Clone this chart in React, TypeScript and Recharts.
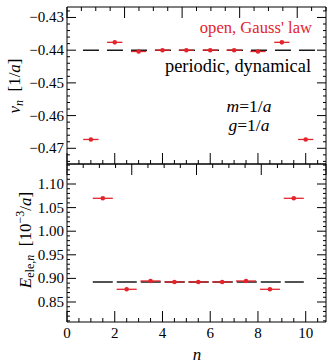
import React from 'react';
import { ComposedChart, Scatter, XAxis, YAxis, ErrorBar, ReferenceLine } from 'recharts';

// site index and expectation values
const sitesTop = [1, 2, 3, 4, 5, 6, 7, 8, 9, 10];
const vOpen = [-0.4673, -0.4376, -0.4404, -0.44, -0.44, -0.44, -0.44, -0.4404, -0.4376, -0.4673];
const vPeriodic = -0.44;

// links sit between sites
const linksBottom = [1.5, 2.5, 3.5, 4.5, 5.5, 6.5, 7.5, 8.5, 9.5];
const eOpen = [1.0697, 0.8769, 0.8945, 0.8925, 0.8925, 0.8925, 0.8945, 0.8769, 1.0697];
const ePeriodic = 0.8925;

const xMajor = [0, 2, 4, 6, 8, 10];
const yMajorTop = [-0.47, -0.46, -0.45, -0.44, -0.43];
const yMajorBottom = [0.85, 0.9, 0.95, 1.0, 1.05, 1.1];

const X_DOMAIN: [number, number] = [0, 10.85];
const TOP_DOMAIN: [number, number] = [-0.4748, -0.4268];
const BOTTOM_DOMAIN: [number, number] = [0.8076, 1.1424];

const RED = '#e3242b';
const FONT = "'Liberation Serif', 'DejaVu Serif', serif";

const range = (from: number, to: number, step: number) => {
  const out: number[] = [];
  for (let v = from; v <= to + 1e-9; v += step) out.push(+v.toFixed(4));
  return out;
};

const xTicks = range(0, 10.5, 0.5);
const yTicksTop = range(-0.474, -0.428, 0.002);
const yTicksBottom = range(0.81, 1.14, 0.01);

const isOn = (v: number, list: number[]) => list.some((m) => Math.abs(m - v) < 1e-6);

const topData = sitesTop.map((n, i) => ({ n, v: vOpen[i], dx: 0.32 }));
const bottomData = linksBottom.map((n, i) => ({ n, v: eOpen[i], dx: 0.42 }));

const fmt = (v: number) => v.toFixed(2).replace('-', '\u2212');

const XTick = ({ x, y, payload, dir, labels }: any) => {
  const major = isOn(payload.value, xMajor);
  const len = major ? 11 : 4;
  return (
    <g>
      <line x1={x} x2={x} y1={y} y2={y + dir * len} stroke="#000" strokeWidth={1} />
      {labels && major && (
        <text x={x} y={y + 16} textAnchor="middle" fontSize={15} fontFamily={FONT} fill="#000">
          {payload.value}
        </text>
      )}
    </g>
  );
};

const YTick = ({ x, y, payload, dir, majors, labels }: any) => {
  const major = isOn(payload.value, majors);
  const len = major ? 9 : 3;
  return (
    <g>
      <line x1={x} x2={x + dir * len} y1={y} y2={y} stroke="#000" strokeWidth={1} />
      {labels && major && (
        <text x={x - 3} y={y + 5} textAnchor="end" fontSize={15} fontFamily={FONT} fill="#000">
          {fmt(payload.value)}
        </text>
      )}
    </g>
  );
};

const dot = (p: any) => <circle cx={p.cx} cy={p.cy} r={2.3} fill={RED} />;

// four framing axes with inward ticks; the axis boxes are 1px so they render
const Frame = ({ yDomain, yMajor, yTicks, bottomLabels }: any) => [
  <XAxis
    key="xb"
    xAxisId={0}
    dataKey="n"
    type="number"
    domain={X_DOMAIN}
    allowDataOverflow
    ticks={xTicks}
    interval={0}
    height={1}
    tickSize={0}
    tickMargin={0}
    tickLine={false}
    axisLine={{ stroke: '#000' }}
    tick={(p: any) => <XTick {...p} dir={-1} labels={bottomLabels} />}
  />,
  <XAxis
    key="xt"
    xAxisId="top"
    orientation="top"
    type="number"
    domain={X_DOMAIN}
    allowDataOverflow
    ticks={xTicks}
    interval={0}
    height={1}
    tickSize={0}
    tickMargin={0}
    tickLine={false}
    axisLine={{ stroke: '#000' }}
    tick={(p: any) => <XTick {...p} dir={1} />}
  />,
  <YAxis
    key="yl"
    yAxisId={0}
    type="number"
    domain={yDomain}
    allowDataOverflow
    ticks={yTicks}
    interval={0}
    width={1}
    tickSize={0}
    tickMargin={0}
    tickLine={false}
    axisLine={{ stroke: '#000' }}
    tick={(p: any) => <YTick {...p} dir={1} majors={yMajor} labels />}
  />,
  <YAxis
    key="yr"
    yAxisId="right"
    orientation="right"
    type="number"
    domain={yDomain}
    allowDataOverflow
    ticks={yTicks}
    interval={0}
    width={1}
    tickSize={0}
    tickMargin={0}
    tickLine={false}
    axisLine={{ stroke: '#000' }}
    tick={(p: any) => <YTick {...p} dir={-1} majors={yMajor} />}
  />,
];

export default function App() {
  return (
    <div style={{ position: 'absolute', left: 0, top: 0, width: 327, height: 363, background: '#fff', fontFamily: FONT }}>
      <div style={{ position: 'absolute', left: 0, top: 0 }}>
        <ComposedChart width={327} height={170} data={topData} margin={{ top: 6, right: 0, bottom: 5, left: 66 }}>
          {Frame({ yDomain: TOP_DOMAIN, yMajor: yMajorTop, yTicks: yTicksTop, bottomLabels: false })}
          <ReferenceLine
            segment={[{ x: 0.67, y: vPeriodic }, { x: 10.7, y: vPeriodic }]}
            stroke="#1a1a1a"
            strokeWidth={1.5}
            strokeDasharray="16 8"
            ifOverflow="visible"
          />
          <Scatter data={topData} dataKey="v" shape={dot} isAnimationActive={false}>
            <ErrorBar dataKey="dx" direction="x" width={0} stroke={RED} strokeWidth={1.3} />
          </Scatter>
        </ComposedChart>
      </div>
      <div style={{ position: 'absolute', left: 0, top: 0 }}>
        <ComposedChart width={327} height={363} data={bottomData} margin={{ top: 163, right: 0, bottom: 40, left: 66 }}>
          {Frame({ yDomain: BOTTOM_DOMAIN, yMajor: yMajorBottom, yTicks: yTicksBottom, bottomLabels: true })}
          <ReferenceLine
            segment={[{ x: 1.08, y: ePeriodic }, { x: 9.92, y: ePeriodic }]}
            stroke="#1a1a1a"
            strokeWidth={1.5}
            strokeDasharray="20 4"
            ifOverflow="visible"
          />
          <Scatter data={bottomData} dataKey="v" shape={dot} isAnimationActive={false}>
            <ErrorBar dataKey="dx" direction="x" width={0} stroke={RED} strokeWidth={1.3} />
          </Scatter>
        </ComposedChart>
      </div>
      <svg width={327} height={363} style={{ position: 'absolute', left: 0, top: 0, pointerEvents: 'none' }} fontFamily={FONT}>
        <text x={312} y={33} textAnchor="end" fontSize={16.6} fill={RED}>open, Gauss' law</text>
        <text x={311} y={72} textAnchor="end" fontSize={18.4} fill="#000">periodic, dynamical</text>
        <text x={249} y={112} textAnchor="middle" fontSize={17.5} fill="#000">
          <tspan fontStyle="italic">m</tspan>=1/<tspan fontStyle="italic">a</tspan>
        </text>
        <text x={249} y={131} textAnchor="middle" fontSize={17.5} fill="#000">
          <tspan fontStyle="italic">g</tspan>=1/<tspan fontStyle="italic">a</tspan>
        </text>
        <text transform="translate(20,86) rotate(-90)" textAnchor="middle" fontSize={17} fill="#000">
          <tspan fontStyle="italic">v</tspan>
          <tspan fontStyle="italic" fontSize={12} dy={3}>n</tspan>
          <tspan dy={-3}>{'\u00a0\u00a0[1/'}</tspan>
          <tspan fontStyle="italic">a</tspan>
          <tspan>]</tspan>
        </text>
        <text transform="translate(31,240) rotate(-90)" textAnchor="middle" fontSize={17} fill="#000">
          <tspan fontStyle="italic">E</tspan>
          <tspan fontSize={12} dy={3}>ele,</tspan>
          <tspan fontSize={12} fontStyle="italic">n</tspan>
          <tspan dy={-3}>{'\u00a0\u00a0[10'}</tspan>
          <tspan fontSize={12} dy={-7}>{'\u22123'}</tspan>
          <tspan dy={7}>/</tspan>
          <tspan fontStyle="italic">a</tspan>
          <tspan>]</tspan>
        </text>
        <text x={197} y={360} textAnchor="middle" fontSize={17} fontStyle="italic" fill="#000">n</text>
      </svg>
    </div>
  );
}
